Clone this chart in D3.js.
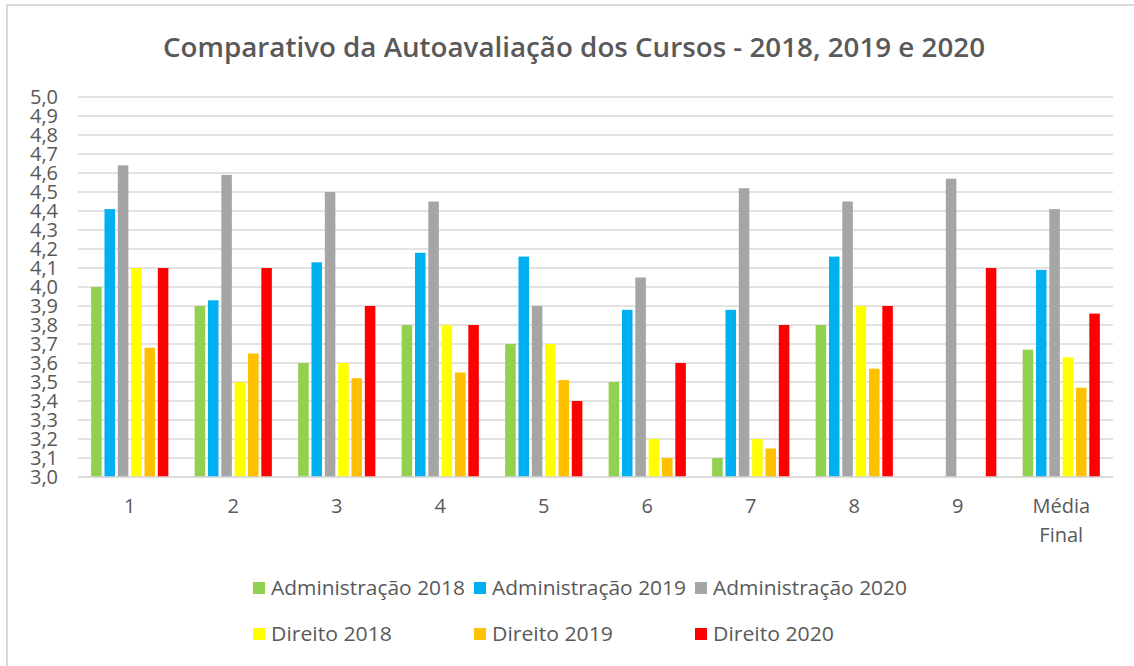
<!DOCTYPE html>
<html>
<head>
<meta charset="utf-8">
<script src="https://cdn.jsdelivr.net/npm/d3@7.9.0/dist/d3.min.js"></script>
<style>
  body { margin: 0; background: #fff; }
  svg { display: block; font-family: "Open Sans", "Noto Sans", sans-serif; }
</style>
</head>
<body>
<svg id="chart" width="1134" height="666"></svg>
<script>
// categories on the x axis
const categories = ["1", "2", "3", "4", "5", "6", "7", "8", "9", "Média Final"];

// one list per series (null = no bar)
const adm2018 = [4.00, 3.90, 3.60, 3.80, 3.70, 3.50, 3.10, 3.80, null, 3.67];
const adm2019 = [4.41, 3.93, 4.13, 4.18, 4.16, 3.88, 3.88, 4.16, null, 4.09];
const adm2020 = [4.64, 4.59, 4.50, 4.45, 3.90, 4.05, 4.52, 4.45, 4.57, 4.41];
const dir2018 = [4.10, 3.50, 3.60, 3.80, 3.70, 3.20, 3.20, 3.90, null, 3.63];
const dir2019 = [3.68, 3.65, 3.52, 3.55, 3.51, 3.10, 3.15, 3.57, null, 3.47];
const dir2020 = [4.10, 4.10, 3.90, 3.80, 3.40, 3.60, 3.80, 3.90, 4.10, 3.86];

const seriesNames = ["Administração 2018", "Administração 2019", "Administração 2020",
                     "Direito 2018", "Direito 2019", "Direito 2020"];
const seriesValues = [adm2018, adm2019, adm2020, dir2018, dir2019, dir2020];
const seriesColors = ["#92D050", "#00B0F0", "#A5A5A5", "#FFFF00", "#FFC000", "#FF0000"];

// y axis ticks
const yTicks = [3.0, 3.1, 3.2, 3.3, 3.4, 3.5, 3.6, 3.7, 3.8, 3.9, 4.0,
                4.1, 4.2, 4.3, 4.4, 4.5, 4.6, 4.7, 4.8, 4.9, 5.0];

const title = "Comparativo da Autoavaliação dos Cursos - 2018, 2019 e 2020";

const svg = d3.select('#chart');
const textColor = '#595959';
const gridColor = '#D9D9D9';

// outer chart frame (only top and left edges are in view)
svg.append('path')
    .attr('d', 'M7,666 V5 H1134')
    .attr('fill', 'none')
    .attr('stroke', gridColor)
    .attr('stroke-width', 2);

const plot = { left: 78, right: 1113, top: 97, bottom: 477 };

let y = d3.scaleLinear().domain([3, 5]).range([plot.bottom, plot.top]);
let x0 = d3.scaleBand().domain(categories).range([plot.left, plot.right])
    .paddingInner(0.227).paddingOuter(0.1135);
let x1 = d3.scaleBand().domain(seriesNames).range([0, x0.bandwidth()]);

const locale = d3.formatLocale({ decimal: ",", thousands: ".", grouping: [3], currency: ["", ""] });
const fmt = locale.format(".1f");

// gridlines
svg.append('g')
    .selectAll('line')
    .data(yTicks)
    .join('line')
    .attr('x1', plot.left)
    .attr('x2', plot.right)
    .attr('y1', d => y(d))
    .attr('y2', d => y(d))
    .attr('stroke', gridColor)
    .attr('stroke-width', 1.5);

// y axis labels
let yAxis = d3.axisLeft(y).tickValues(yTicks).tickFormat(fmt).tickSize(0).tickPadding(20);
let yg = svg.append('g').attr('transform', `translate(${plot.left},0)`).call(yAxis);
yg.select('.domain').remove();
yg.selectAll('text')
    .attr('fill', textColor)
    .style('font-size', '20px')
    .style('font-family', '"Open Sans", sans-serif');

// bars
seriesValues.forEach((values, si) => {
    let name = seriesNames[si];
    let bw = x1.bandwidth();
    svg.append('g')
        .selectAll('rect')
        .data(values.map((v, ci) => ({ v: v, cat: categories[ci] })).filter(d => d.v !== null))
        .join('rect')
        .attr('x', d => x0(d.cat) + x1(name) + 1.4)
        .attr('width', bw - 2.8)
        .attr('y', d => y(d.v))
        .attr('height', d => y(3) - y(d.v))
        .attr('fill', seriesColors[si]);
});

// x axis baseline
svg.append('line')
    .attr('x1', plot.left).attr('x2', plot.right)
    .attr('y1', plot.bottom).attr('y2', plot.bottom)
    .attr('stroke', gridColor).attr('stroke-width', 1.5);

// x labels (wrap "Média Final" onto two lines)
let xl = svg.append('g')
    .selectAll('text')
    .data(categories)
    .join('text')
    .attr('x', d => x0(d) + x0.bandwidth() / 2)
    .attr('y', 513)
    .attr('text-anchor', 'middle')
    .attr('fill', textColor)
    .style('font-size', '20px');
xl.each(function (d) {
    let words = d.split(' ');
    let t = d3.select(this);
    words.forEach((w, i) => {
        t.append('tspan')
            .attr('x', x0(d) + x0.bandwidth() / 2)
            .attr('dy', i === 0 ? 0 : 29)
            .text(w);
    });
});

// title
svg.append('text')
    .attr('x', 574)
    .attr('y', 57)
    .attr('text-anchor', 'middle')
    .attr('fill', textColor)
    .attr('textLength', 822)
    .attr('lengthAdjust', 'spacingAndGlyphs')
    .style('font-size', '27px')
    .style('font-weight', 600)
    .text(title);

// legend: 3 columns, 2 rows
const legendCols = [253, 474, 695];
const legendRows = [588, 634];
seriesNames.forEach((name, i) => {
    let lx = legendCols[i % 3];
    let ly = legendRows[Math.floor(i / 3)];
    let item = svg.append('g').attr('transform', `translate(${lx},${ly})`);
    item.append('rect')
        .attr('x', 0).attr('y', -6)
        .attr('width', 12).attr('height', 12)
        .attr('fill', seriesColors[i]);
    item.append('text')
        .attr('x', 18)
        .attr('y', 7)
        .attr('fill', textColor)
        .attr('textLength', name.startsWith('Adm') ? 194 : 121)
        .attr('lengthAdjust', 'spacingAndGlyphs')
        .style('font-size', '20px')
        .text(name);
});
</script>
</body>
</html>
